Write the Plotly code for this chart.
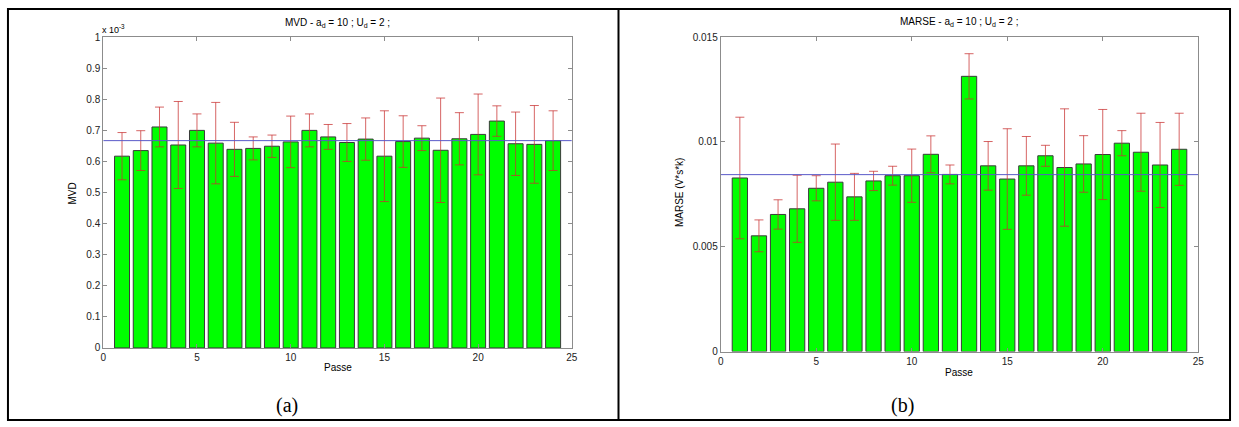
import plotly.graph_objects as go

W, H = 1239, 427

# ---------------- data ----------------
passes = list(range(1, 25))

# MVD (values in units of 1e-3)
mvd_mean = [0.617, 0.635, 0.711, 0.653, 0.700, 0.659, 0.639, 0.642, 0.649, 0.663,
            0.700, 0.679, 0.661, 0.672, 0.617, 0.664, 0.675, 0.636, 0.673, 0.687,
            0.730, 0.657, 0.655, 0.667]
mvd_err = [0.076, 0.064, 0.064, 0.140, 0.053, 0.131, 0.087, 0.037, 0.036, 0.083,
           0.053, 0.040, 0.061, 0.068, 0.146, 0.083, 0.040, 0.168, 0.084, 0.130,
           0.049, 0.102, 0.125, 0.096]
mvd_overall = 0.667

# MARSE
marse_mean = [0.00828, 0.00552, 0.00654, 0.00681, 0.00779, 0.00808, 0.00738, 0.00814,
              0.00839, 0.00839, 0.00941, 0.00845, 0.01313, 0.00886, 0.00823, 0.00886,
              0.00934, 0.00878, 0.00895, 0.00940, 0.00994, 0.00951, 0.00890, 0.00965]
marse_err = [0.00290, 0.00076, 0.00070, 0.00160, 0.00060, 0.00182, 0.00112, 0.00046,
             0.00045, 0.00127, 0.00088, 0.00045, 0.00108, 0.00116, 0.00240, 0.00140,
             0.00050, 0.00280, 0.00135, 0.00215, 0.00060, 0.00186, 0.00203, 0.00172]
marse_overall = 0.00844

left_title = "MVD - a<sub>d</sub> = 10 ; U<sub>d</sub> = 2 ;"
right_title = "MARSE - a<sub>d</sub> = 10 ; U<sub>d</sub> = 2 ;"
left_ylabel = "MVD"
right_ylabel = "MARSE (V*s*k)"
xlabel = "Passe"
x_ticks = [0, 5, 10, 15, 20, 25]
left_yticks = [0, 0.1, 0.2, 0.3, 0.4, 0.5, 0.6, 0.7, 0.8, 0.9, 1]
right_yticks = [0, 0.005, 0.01, 0.015]

# ---------------- styling ----------------
FONT = "Liberation Sans, Arial, sans-serif"
SERIF = "Liberation Serif, Times New Roman, serif"
BAR_GREEN = "#00ff00"
BAR_EDGE = "#3a3a3a"
ERR_COL = "rgba(200,50,50,0.75)"
MEAN_COL = "#5a5ac8"
AX_COL = "#8c8c8c"
FS = 10


def px(x):
    return x / W


def py(y):
    return 1 - y / H


fig = go.Figure()

# Left panel
fig.add_trace(go.Bar(
    x=passes, y=mvd_mean, width=0.8,
    marker=dict(color=BAR_GREEN, line=dict(color=BAR_EDGE, width=1)),
    error_y=dict(type="data", array=mvd_err, color=ERR_COL, thickness=1, width=4.5),
    xaxis="x", yaxis="y", showlegend=False))
fig.add_trace(go.Scatter(
    x=[0, 25], y=[mvd_overall, mvd_overall], mode="lines",
    line=dict(color=MEAN_COL, width=1), xaxis="x", yaxis="y", showlegend=False))

# Right panel
fig.add_trace(go.Bar(
    x=passes, y=marse_mean, width=0.8,
    marker=dict(color=BAR_GREEN, line=dict(color=BAR_EDGE, width=1)),
    error_y=dict(type="data", array=marse_err, color=ERR_COL, thickness=1, width=4.5),
    xaxis="x2", yaxis="y2", showlegend=False))
fig.add_trace(go.Scatter(
    x=[0, 25], y=[marse_overall, marse_overall], mode="lines",
    line=dict(color=MEAN_COL, width=1), xaxis="x2", yaxis="y2", showlegend=False))

axis_common = dict(
    showline=True, linecolor=AX_COL, linewidth=1, mirror="ticks",
    ticks="inside", ticklen=4, tickcolor=AX_COL, showgrid=False, zeroline=False,
    tickfont=dict(family=FONT, size=FS, color="#222222"),
)

fig.update_layout(
    width=W, height=H, autosize=False,
    margin=dict(l=0, r=0, t=0, b=0, pad=0),
    paper_bgcolor="white", plot_bgcolor="white",
    font=dict(family=FONT, size=FS, color="#111111"),
    xaxis=dict(domain=[px(101), px(573)], range=[0, 25], tickvals=x_ticks,
               anchor="y", **axis_common),
    yaxis=dict(domain=[py(352), py(33)], range=[0, 1], tickvals=left_yticks,
               anchor="x", **axis_common),
    xaxis2=dict(domain=[px(723), px(1204)], range=[0, 25], tickvals=x_ticks,
                anchor="y2", **axis_common),
    yaxis2=dict(domain=[py(355.7), py(33)], range=[0, 0.015], tickvals=right_yticks,
                anchor="x2", **axis_common),
)


def note(x, y, text, size=FS, family=FONT, angle=0, xanchor="center"):
    return dict(x=px(x), y=py(y), xref="paper", yref="paper", text=text,
                showarrow=False, textangle=angle, xanchor=xanchor, yanchor="middle",
                font=dict(size=size, family=family, color="black"))


ann = [
    note(337, 18, left_title),
    note(963, 17, right_title),
    note(337, 372, xlabel),
    note(963, 377, xlabel),
    note(70, 193, left_ylabel, angle=-90),
    note(681, 193, right_ylabel, angle=-90),
    note(98, 25, "x 10<sup>-3</sup>", size=9, xanchor="left"),
    note(286, 411, "(a)", size=20, family=SERIF),
    note(906, 411, "(b)", size=20, family=SERIF),
]
fig.update_layout(annotations=ann)

# table borders
shapes = [
    dict(type="rect", xref="paper", yref="paper", x0=px(5), x1=px(1236),
         y0=py(426), y1=py(4), line=dict(color="black", width=2)),
    dict(type="line", xref="paper", yref="paper", x0=px(620), x1=px(620),
         y0=py(426), y1=py(4), line=dict(color="black", width=2)),
]
fig.update_layout(shapes=shapes)

fig.write_html("out.html", config={"displayModeBar": False})

# remove the default page margin so the figure sits at the window's origin
with open("out.html", "r", encoding="utf-8") as f:
    html = f.read()
html = html.replace("<head>", "<head><style>html,body{margin:0;padding:0;overflow:hidden;}</style>", 1)
with open("out.html", "w", encoding="utf-8") as f:
    f.write(html)
